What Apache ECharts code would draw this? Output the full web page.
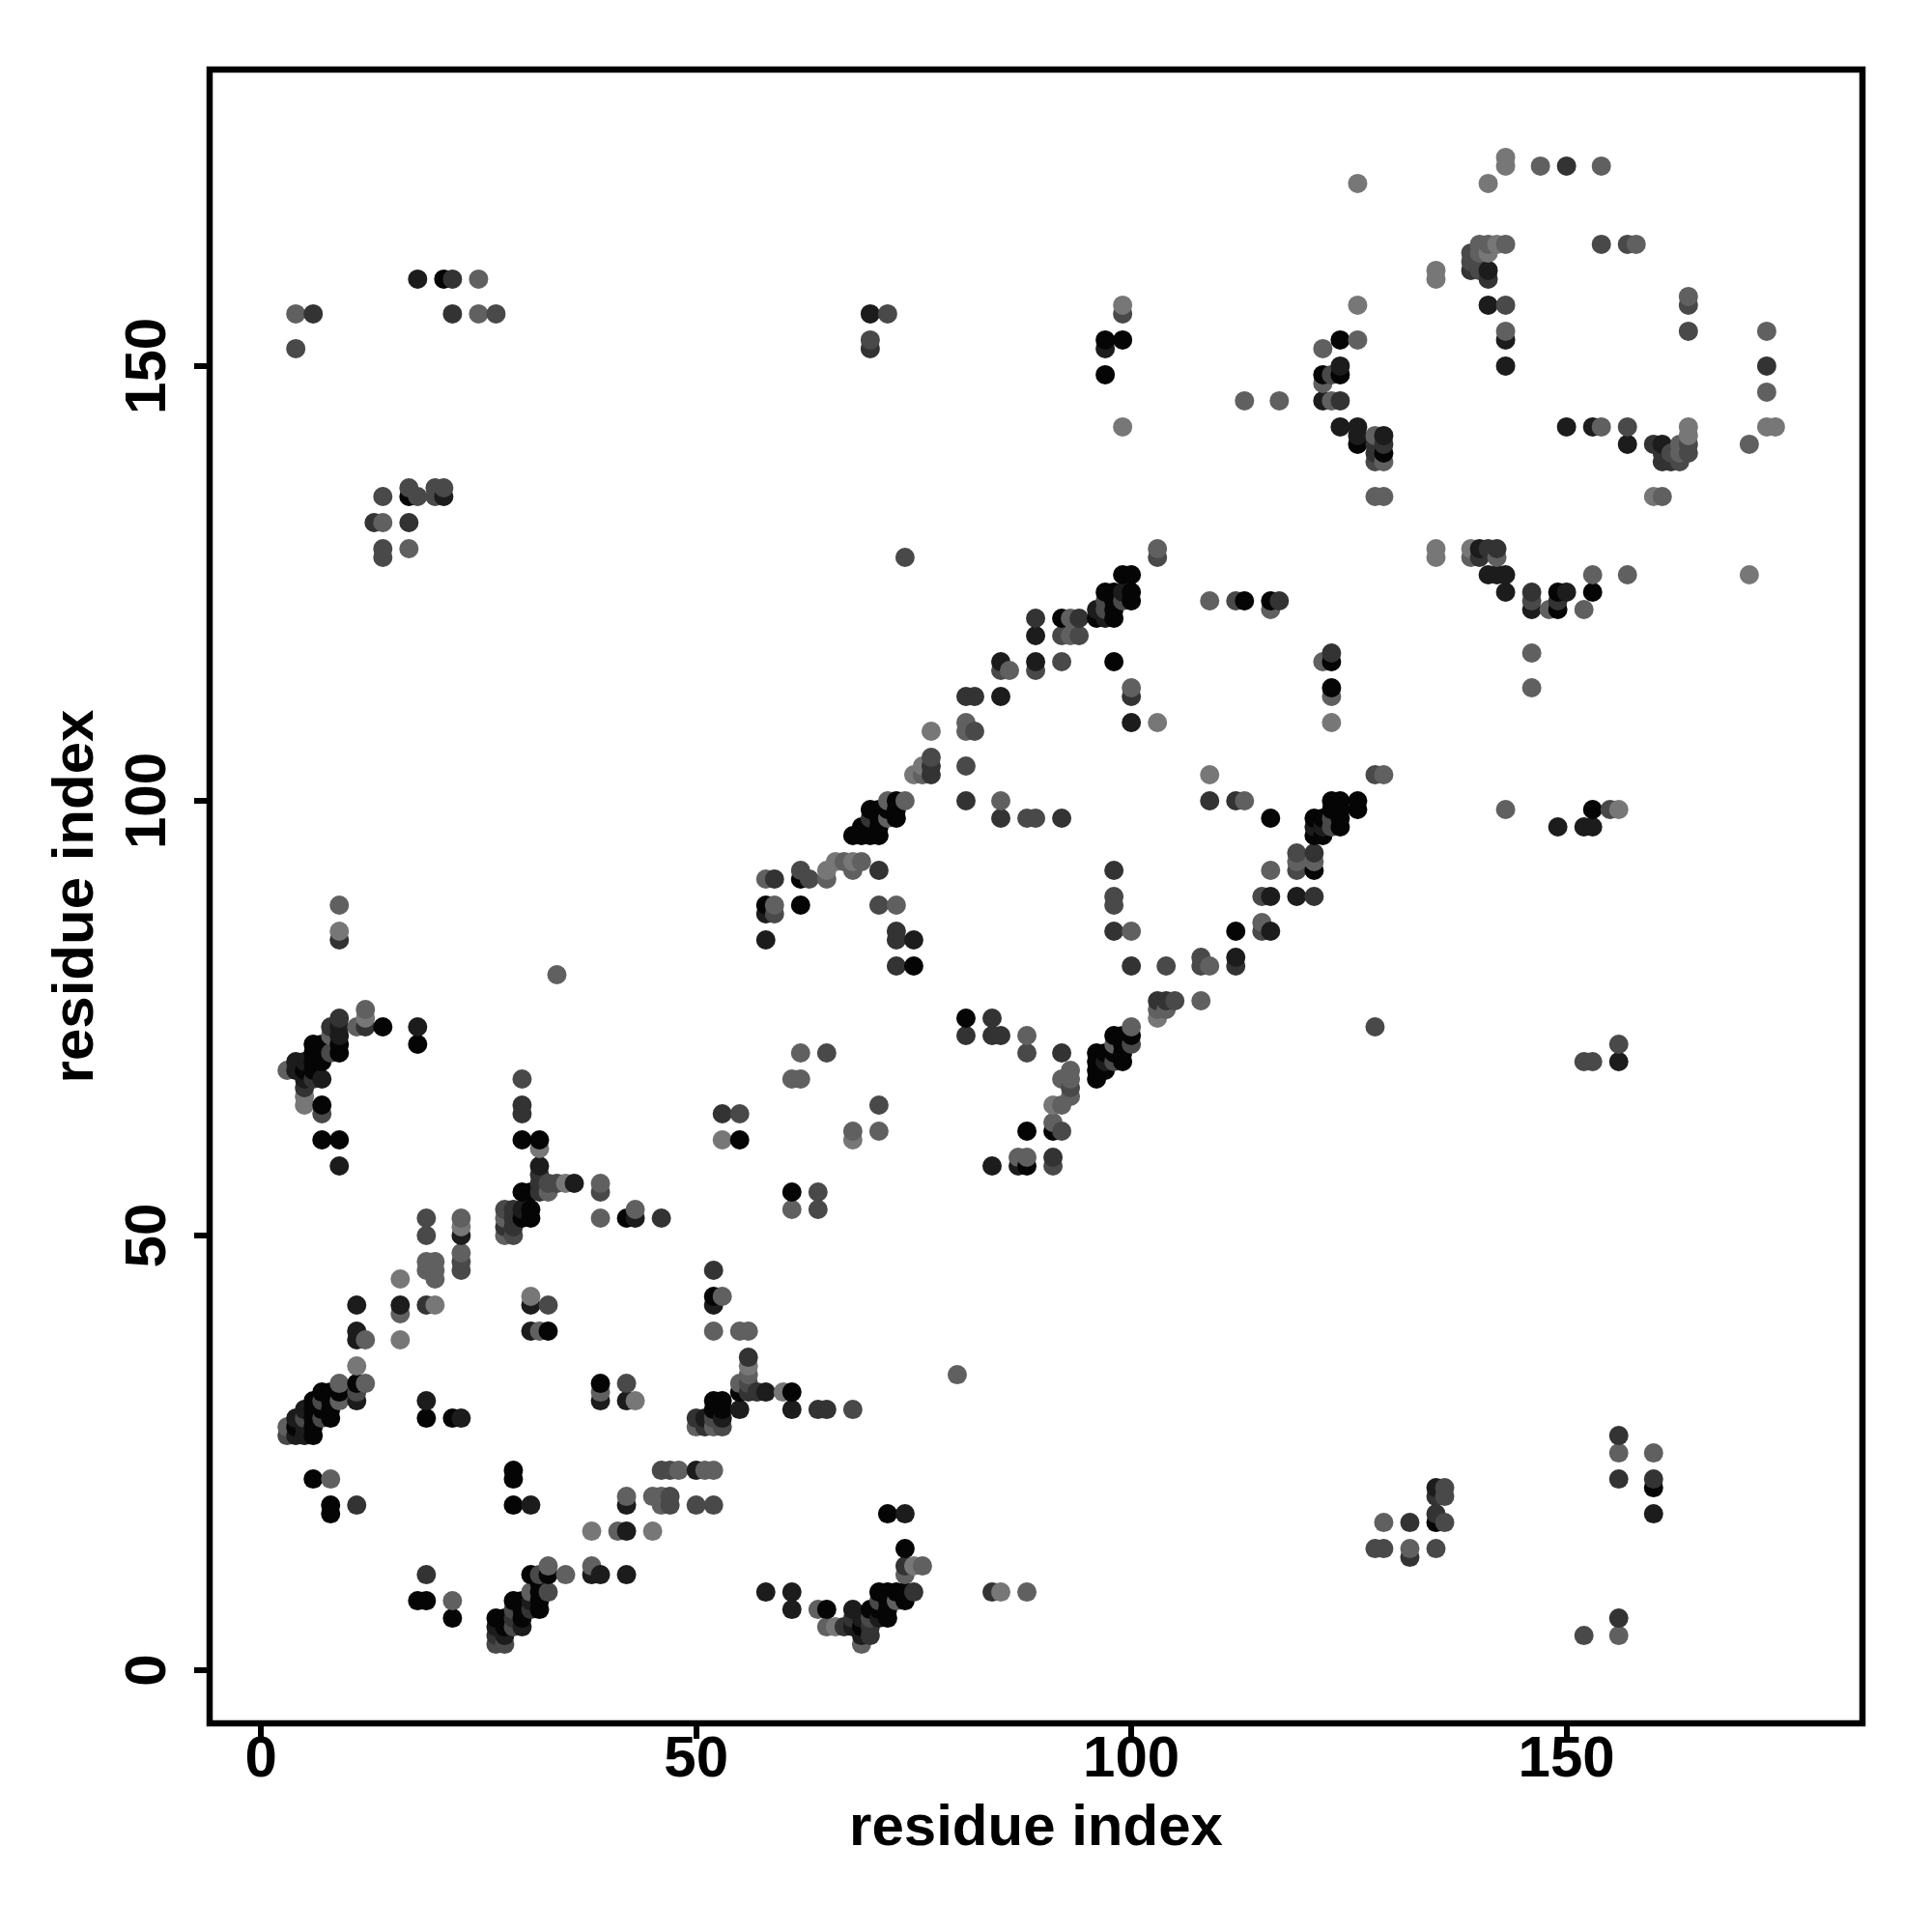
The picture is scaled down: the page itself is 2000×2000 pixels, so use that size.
<!DOCTYPE html>
<html><head><meta charset="utf-8">
<script src="https://cdn.jsdelivr.net/npm/echarts@6/dist/echarts.min.js"></script>
<style>html,body{margin:0;padding:0;background:#fff}#c{width:2000px;height:2000px}</style>
</head><body><div id="c"></div>
<script>
// Each contact: [residue x, residue y, shade class 0 (darkest) .. 5 (lightest)]
const lowerLeftContacts = [
[19,47,4],[20,47,4],[23,47,3],[19,46,4],[20,46,4],[23,46,3],[16,45,5],[20,45,4],[23,48,4],
[11,42,1],[16,42,1],[19,42,2],[20,42,5],[31,42,1],[33,42,3],[52,42,1],
[31,43,5],[52,43,0],[53,43,4],[16,41,4],[31,39,1],[32,39,4],[33,39,0],[52,39,4],
[11,39,1],[11,38,1],[12,38,4],[16,38,5],[11,35,5],
[9,33,4],[11,33,0],[12,33,4],[39,33,0],[42,33,3],
[7,32,0],[8,32,0],[9,32,0],[11,32,3],[39,32,4],
[9,31,4],[11,31,1],[19,31,1],[39,31,1],[42,31,1],[43,31,5],[52,31,0],[53,31,0],
[5,30,1],[6,30,0],[7,30,0],[8,30,0],[6,31,0],[7,31,3],[8,31,0],
[4,29,1],[5,29,3],[6,29,0],[7,29,3],[8,29,0],[19,29,0],[22,29,0],[23,29,1],
[3,28,4],[4,28,0],[5,28,1],[6,28,0],[3,27,3],[4,27,1],[5,27,1],[6,27,0],
[50,29,2],[50,28,4],[51,29,1],[51,28,2],[52,30,0],[53,30,0],[52,29,3],[53,29,1],[52,28,4],[53,28,3],
[29,23,0],[46,23,3],[47,23,3],[48,23,4],[50,23,1],[51,23,4],[52,23,4],
[6,22,0],[8,22,4],[29,22,0],[42,20,4],[45,20,4],[46,20,4],[47,20,3],
[8,19,0],[11,19,2],[29,19,0],[31,19,1],[42,19,1],[46,19,4],[47,19,3],[50,19,3],[52,19,3],[8,18,0],
[38,16,5],[41,16,4],[42,16,1],[45,16,5],
[33,12,4],[38,12,4],[19,11,2],[31,11,0],[32,11,3],[33,11,0],[35,11,4],[38,11,1],[39,11,1],[42,11,1],
[32,10,0],[31,9,4],[32,9,0],[33,9,3],
[18,8,0],[19,8,0],[22,8,4],[29,8,0],[30,8,0],[31,8,1],[32,8,0],
[29,7,3],[30,7,0],[31,7,2],[32,7,0],[22,6,0],[27,6,0],[28,6,0],[29,6,2],[30,6,0],
[27,5,1],[28,5,0],[29,5,3],[30,5,1],[27,4,2],[28,4,1],[27,3,3],[28,3,3]
];
const lowerMiddleContacts = [
[55,39,4],[56,39,4],[56,36,2],[56,35,5],[56,34,4],[55,33,4],[56,33,3],[55,32,0],[56,32,2],[57,32,2],[58,32,1],[60,32,5],[61,32,0],
[55,30,1],[61,30,1],[64,30,2],[65,30,2],[68,30,3],[80,34,4],
[72,18,0],[74,18,1],[74,14,0],[74,12,2],[75,12,5],[76,12,4],[74,11,4],
[58,9,1],[61,9,1],[71,9,0],[72,9,0],[73,9,0],[74,9,0],[75,9,2],[84,9,2],[85,9,5],[88,9,4],
[71,8,3],[72,8,0],[73,8,4],[74,8,0],[61,7,1],[64,7,4],[65,7,0],[68,7,1],[70,7,0],[71,7,0],[72,7,0],
[68,6,2],[69,6,1],[70,6,3],[71,6,1],[72,6,0],
[65,5,4],[66,5,5],[67,5,2],[68,5,1],[69,5,0],[70,5,2],[69,4,1],[70,4,2],[69,3,4]
];
const midLeftContacts = [
[9,88,4],[9,85,5],[9,84,2],[34,80,4],[12,76,4],[12,75,5],[9,75,2],[8,74,2],[9,74,1],[11,74,4],[12,74,2],[14,74,0],[18,74,1],
[8,73,4],[9,73,1],[6,72,0],[7,72,0],[9,72,0],[18,72,0],[6,71,0],[7,71,0],[8,71,3],[9,71,0],
[4,70,1],[5,70,1],[6,70,0],[7,70,0],[3,69,4],[4,69,1],[5,69,0],[6,69,0],
[5,68,1],[6,68,2],[7,68,1],[30,68,3],[5,67,2],[5,66,5],[5,65,5],[7,65,0],[30,65,2],[7,64,3],[30,64,2],
[7,61,0],[9,61,0],[30,61,0],[32,61,0],[32,60,5],[9,58,1],[32,58,1],
[32,57,2],[32,56,2],[33,56,3],[34,56,3],[35,56,5],[36,56,1],[39,56,4],
[30,55,0],[31,55,0],[32,55,2],[33,55,4],[39,55,3],
[28,53,3],[29,53,2],[30,53,1],[31,53,0],[43,53,4],
[28,52,4],[29,52,2],[30,52,0],[31,52,0],[19,52,3],[23,52,4],[39,52,4],[42,52,0],[43,52,1],[46,52,2],
[28,51,2],[29,51,2],[23,51,5],[28,50,4],[29,50,3],[19,50,3],[23,50,1],[52,46,2]
];
const centreContacts = [
[66,93,5],[67,93,4],[68,93,5],[69,93,4],[62,92,3],[65,92,5],[68,92,4],[71,92,2],
[58,91,4],[59,91,2],[62,91,0],[63,91,3],[65,91,4],
[58,88,0],[59,88,4],[62,88,0],[71,88,3],[73,88,4],[58,87,1],[59,87,3],
[73,85,2],[98,85,2],[100,85,4],[58,84,1],[73,84,2],[75,84,1],
[73,81,2],[75,81,0],[100,81,2],[104,81,3],[108,81,3],[109,81,4],[108,82,3],
[98,92,2],[98,89,3],[98,88,3],
[103,77,2],[104,77,2],[105,77,3],[108,77,4],[103,76,4],[104,76,4],[103,75,5],
[81,75,0],[84,75,2],[100,74,4],[81,73,2],[84,73,2],[85,73,2],[88,73,4],[98,73,0],[99,73,0],[100,73,0],
[98,72,4],[99,72,0],[100,72,3],[96,71,0],[97,71,0],[98,71,0],[99,71,0],[88,71,3],[92,71,2],[65,71,3],[62,71,4],
[96,70,0],[97,70,1],[98,70,3],[99,70,0],[93,69,4],[96,69,0],[97,69,0],[92,68,4],[93,68,4],[96,68,0],[61,68,4],[62,68,4],
[93,67,3],[93,66,4],[91,65,5],[92,65,4],[71,65,3],[53,64,2],[55,64,3],[91,63,4],[68,62,4],[71,62,4],[88,62,0],[91,62,0],[92,62,3],
[53,61,5],[55,61,0],[68,61,5],[87,59,4],[88,59,4],[91,59,2],[84,58,1],[87,58,1],[88,58,0],[91,58,3],
[61,55,0],[64,55,3],[61,53,4],[64,53,3]
];
const diagonalContacts = [
[74,128,3],[89,121,2],[89,119,1],[85,116,1],[89,116,1],[85,115,3],[86,115,4],[89,115,3],[81,112,2],[82,112,2],[85,112,1],
[81,109,4],[81,108,4],[82,108,3],[77,108,5],[77,105,3],[76,104,5],[77,104,2],[81,104,3],[75,103,5],[76,103,4],[77,103,2],
[72,100,4],[73,100,0],[74,100,4],[81,100,2],[85,100,4],[70,99,0],[71,99,0],[72,99,0],[73,99,0],
[70,98,2],[71,98,0],[72,98,4],[73,98,0],[85,98,2],[88,98,3],[89,98,3],[92,98,2],
[69,97,0],[70,97,0],[71,97,0],[68,96,0],[69,96,0],[70,96,0],[71,96,0],
[103,129,4],[103,128,3],[99,126,0],[100,126,0],[97,124,0],[98,124,0],[99,124,1],[100,124,0],
[97,123,3],[98,123,0],[99,123,3],[100,123,0],[109,123,4],[112,123,3],[113,123,0],[116,123,0],[117,123,2],
[96,122,1],[97,122,3],[98,122,0],[116,122,4],[92,121,0],[93,121,4],[94,121,2],[96,121,0],[97,121,1],[98,121,0],
[92,119,3],[93,119,4],[94,119,3],[92,116,3],[98,116,0],[123,116,0],[122,116,4],[123,117,2],
[100,113,4],[123,113,0],[100,112,2],[123,112,4],[100,109,1],[103,109,5],[123,109,5],
[109,103,5],[128,103,3],[129,103,4],
[109,100,2],[112,100,2],[113,100,4],[123,100,0],[124,100,0],[126,100,0],[123,99,0],[124,99,0],[126,99,0],
[116,98,0],[121,98,0],[122,98,0],[123,98,3],[124,98,0],[121,97,1],[122,97,1],[123,97,3],[124,97,0],[121,96,0],[122,96,0],
[119,94,3],[121,94,2],[119,93,4],[121,93,4],[116,92,4],[119,92,3],[121,92,0],[115,89,3],[116,89,1],[119,89,1],[121,89,2],
[115,86,4],[112,85,0],[115,85,3],[116,85,1],[112,82,1],[112,81,2],[128,74,3]
];
const upperRightContacts = [
[135,129,5],[135,128,5],[139,129,5],[140,129,1],[141,129,2],[142,129,2],[139,128,4],[140,128,2],[142,128,4],
[141,126,1],[142,126,1],[143,126,1],[153,126,4],[157,126,4],[171,126,5],
[143,124,1],[146,124,2],[149,124,0],[150,124,1],[153,124,0],[146,123,3],[149,123,2],[146,122,1],[148,122,4],[149,122,0],[152,122,4],[146,117,4],[146,113,4],
[143,99,4],[153,99,0],[155,99,3],[156,99,5],[149,97,1],[152,97,1],[153,97,1],[152,70,3],[153,70,3],[156,72,3],[156,70,1],
[143,174,5],[143,173,5],[147,173,4],[150,173,2],[154,173,4],[126,171,5],[141,171,5],
[140,164,4],[141,164,4],[142,164,5],[143,164,4],[154,164,3],[157,164,3],[158,164,4],
[139,163,3],[140,163,4],[141,163,5],[139,162,3],[140,162,3],[135,161,5],[139,161,2],[140,161,3],[141,161,1],[135,160,5],[141,160,2],
[164,158,4],[126,157,5],[141,157,1],[143,157,3],[164,157,3],[143,154,4],[164,154,3],[173,154,4],
[124,153,0],[126,153,4],[143,153,1],[122,152,4],[124,150,1],[143,150,1],[173,150,2],
[122,149,0],[123,149,3],[124,149,0],[122,148,4],[173,147,4],[122,146,1],[123,146,4],[124,146,2],
[124,143,1],[126,143,1],[150,143,1],[153,143,1],[154,143,4],[157,143,3],[164,143,5],[173,143,5],[174,143,5],
[126,142,1],[128,142,4],[129,142,1],[164,142,5],[126,141,0],[128,141,2],[129,141,2],[157,141,1],[160,141,2],[161,141,1],[163,141,4],[164,141,3],[171,141,4],
[128,140,2],[129,140,0],[161,140,2],[162,140,3],[163,140,4],[164,140,3],[128,139,3],[129,139,4],[161,139,2],[162,139,2],[163,139,3],
[128,135,4],[129,135,4],[160,135,5],[161,135,4]
];
const upperLeftContacts = [
[18,160,1],[21,160,0],[22,160,2],[25,160,4],[4,156,4],[6,156,2],[22,156,2],[25,156,4],[27,156,3],[4,152,3],
[17,136,3],[20,136,3],[21,136,3],[14,135,3],[17,135,0],[18,135,3],[20,135,3],[21,135,1],
[13,132,2],[14,132,4],[17,132,2],[14,129,3],[17,129,4],[14,128,3],
[99,157,5],[70,156,1],[72,156,3],[99,156,3],[70,153,3],[97,153,0],[99,153,0],[70,152,2],[97,152,1],[97,149,0],[113,146,4],[117,146,4],[99,143,5]
];
const lowerRightContacts = [
[156,27,2],[156,25,4],[160,25,4],[156,22,2],[160,22,2],[160,21,0],[160,18,1],
[135,21,1],[136,21,3],[135,20,2],[136,20,3],[135,18,2],[129,17,4],[132,17,2],[135,17,0],[136,17,3],
[128,14,3],[129,14,3],[132,14,4],[135,14,3],[132,13,2],[156,6,2],[152,4,3],[156,4,4]
];
const tickValues = [0, 50, 100, 150];
const axisTitle = 'residue index';

const contacts = [].concat(lowerLeftContacts, lowerMiddleContacts, midLeftContacts, centreContacts,
  diagonalContacts, upperRightContacts, upperLeftContacts, lowerRightContacts)
  .sort((a, b) => a[0] - b[0] || a[1] - b[1]);

const font = { fontFamily: '"Liberation Sans", Arial, sans-serif', fontWeight: 'bold', fontSize: 60, color: '#000' };
const line = { color: '#000', width: 6 };
const chart = echarts.init(document.getElementById('c'), null, { renderer: 'canvas' });
chart.setOption({
  animation: false,
  backgroundColor: '#fff',
  grid: { left: 217, top: 72, width: 1711, height: 1712, show: true, borderColor: '#000', borderWidth: 6.5, backgroundColor: 'transparent' },
  xAxis: {
    type: 'value', min: -5.9, max: 184, splitLine: { show: false },
    name: axisTitle, nameLocation: 'middle', nameGap: 79, nameTextStyle: font,
    axisLine: { show: false, onZero: false },
    axisTick: { show: true, length: 16, lineStyle: line, customValues: tickValues },
    axisLabel: { show: true, margin: 8, customValues: tickValues, ...font, formatter: v => String(v) }
  },
  yAxis: {
    type: 'value', min: -6.1, max: 184.1, splitLine: { show: false },
    name: axisTitle, nameLocation: 'middle', nameGap: 108, nameTextStyle: font,
    axisLine: { show: false, onZero: false },
    axisTick: { show: true, length: 16, lineStyle: line, customValues: tickValues },
    axisLabel: { show: true, rotate: 90, margin: 33, customValues: tickValues, ...font, formatter: v => String(v) }
  },
  visualMap: { show: false, type: 'continuous', dimension: 2, min: 0, max: 5, inRange: { color: ['#050505', '#777777'] } },
  series: [{ type: 'scatter', data: contacts, symbol: 'circle', symbolSize: 20, itemStyle: { opacity: 1 }, clip: false, silent: true }]
});
</script></body></html>
